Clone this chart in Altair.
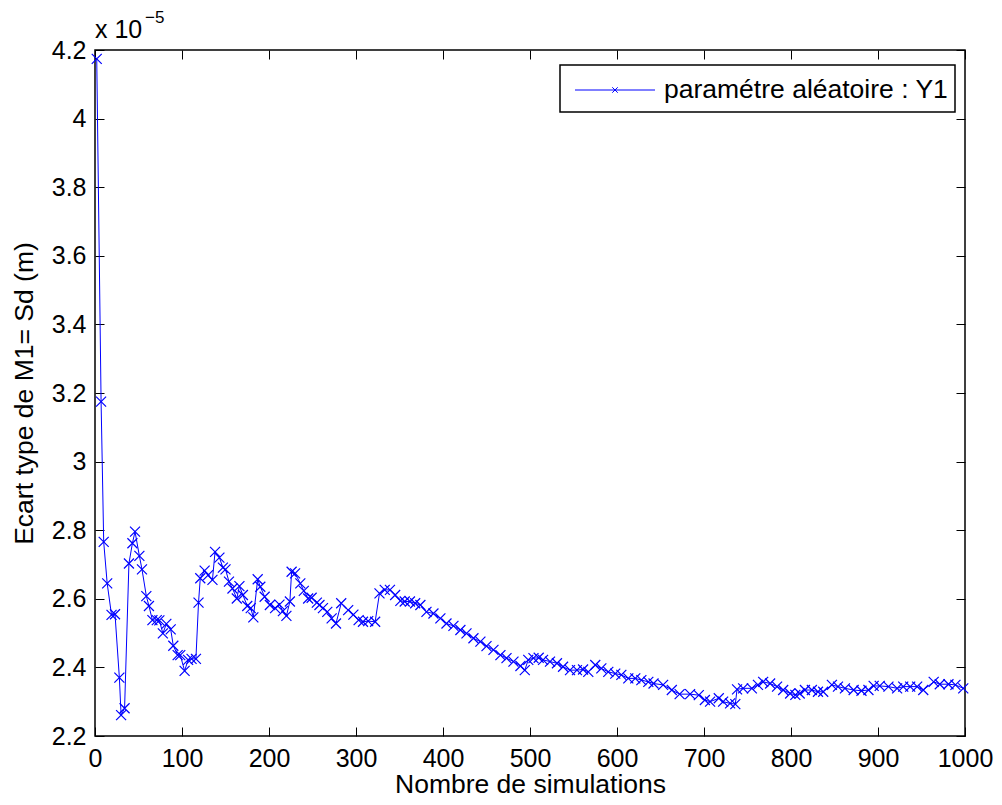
import altair as alt
import pandas as pd

# Number of simulations (x) and standard deviation values (x 1e-5)
sims = [2, 7, 10, 14, 19, 23, 28, 30, 34, 39, 43, 46, 51, 54, 59, 62, 66, 71, 74, 78,
        82, 87, 90, 95, 98, 103, 107, 111, 116, 119, 121, 126, 130, 135, 138, 143, 147, 150, 154, 158,
        163, 166, 170, 175, 179, 182, 187, 190, 195, 201, 207, 212, 216, 220, 224, 226, 230, 236, 240, 245,
        249, 255, 258, 262, 267, 272, 277, 283, 291, 297, 303, 308, 314, 322, 327, 333, 339, 345, 351, 356,
        362, 368, 374, 381, 389, 397, 404, 412, 420, 427, 435, 443, 450, 458, 466, 473, 481, 489, 494, 498,
        504, 510, 515, 523, 531, 538, 546, 554, 561, 567, 575, 582, 590, 598, 605, 613, 621, 628, 636, 642,
        653, 663, 672, 684, 694, 701, 707, 717, 722, 730, 736, 738, 745, 755, 762, 768, 776, 784, 791, 799,
        805, 810, 816, 824, 831, 837, 847, 854, 862, 872, 881, 889, 895, 902, 912, 922, 929, 937, 945, 952,
        964, 971, 981, 989, 998]
sd = [4.174, 3.175, 2.766, 2.645, 2.553, 2.555, 2.370, 2.261, 2.281, 2.703, 2.762, 2.796, 2.725, 2.686, 2.608, 2.579, 2.538, 2.538, 2.537, 2.499,
      2.527, 2.511, 2.463, 2.436, 2.436, 2.390, 2.422, 2.425, 2.425, 2.589, 2.660, 2.682, 2.669, 2.655, 2.737, 2.720, 2.691, 2.686, 2.650, 2.630,
      2.601, 2.637, 2.611, 2.579, 2.573, 2.546, 2.657, 2.635, 2.606, 2.582, 2.573, 2.583, 2.564, 2.550, 2.592, 2.679, 2.674, 2.645, 2.623, 2.601,
      2.603, 2.589, 2.582, 2.573, 2.562, 2.543, 2.528, 2.587, 2.567, 2.554, 2.538, 2.533, 2.535, 2.533, 2.616, 2.626, 2.626, 2.611, 2.594, 2.592,
      2.592, 2.587, 2.582, 2.562, 2.557, 2.543, 2.528, 2.521, 2.509, 2.499, 2.485, 2.475, 2.462, 2.451, 2.436, 2.427, 2.417, 2.404, 2.392, 2.422,
      2.427, 2.428, 2.422, 2.417, 2.412, 2.402, 2.392, 2.392, 2.394, 2.387, 2.407, 2.397, 2.387, 2.382, 2.378, 2.368, 2.368, 2.363, 2.358, 2.353,
      2.349, 2.334, 2.322, 2.322, 2.319, 2.305, 2.300, 2.310, 2.300, 2.295, 2.293, 2.336, 2.339, 2.339, 2.349, 2.358, 2.353, 2.344, 2.334, 2.324,
      2.320, 2.324, 2.334, 2.334, 2.329, 2.329, 2.349, 2.344, 2.339, 2.334, 2.332, 2.334, 2.346, 2.346, 2.344, 2.339, 2.344, 2.344, 2.344, 2.334,
      2.358, 2.351, 2.351, 2.349, 2.339]

x_ticks = [0, 100, 200, 300, 400, 500, 600, 700, 800, 900, 1000]
y_ticks = [2.2, 2.4, 2.6, 2.8, 3.0, 3.2, 3.4, 3.6, 3.8, 4.0, 4.2]
series_name = ["paramétre aléatoire : Y1"]
x_title = "Nombre de simulations"
y_title = "Ecart type de M1= Sd (m)"

df = pd.DataFrame({"sim": sims, "sd": sd})

FONT = "Liberation Sans"
BLUE = "#0000ff"
XMARK = "M-1,-1L1,1M-1,1L1,-1"
W, H = 870, 686

xscale = alt.Scale(domain=[0, 1000], nice=False, zero=False)
yscale = alt.Scale(domain=[2.2, 4.2], nice=False, zero=False)

common_axis = dict(tickSize=9, offset=-9, domain=False, grid=False, tickColor="black",
                   tickWidth=1, labelFont=FONT, labelFontSize=25, labelColor="black",
                   titleFont=FONT, titleFontSize=26.5, titleColor="black", titleFontWeight="normal")

x_main = alt.X("sim:Q", scale=xscale,
               axis=alt.Axis(orient="bottom", values=x_ticks, labelPadding=10, title=x_title,
                             titlePadding=0, format="d", labelFlush=False, **common_axis))
y_main = alt.Y("sd:Q", scale=yscale,
               axis=alt.Axis(orient="left", values=y_ticks, labelPadding=9, title=y_title,
                             titlePadding=13, format="~g", labelFlush=False, **common_axis))

base = alt.Chart(df)

line = base.mark_line(color=BLUE, strokeWidth=1).encode(x=x_main, y=y_main)
pts = base.mark_point(shape=XMARK, size=100, color=BLUE, filled=False, strokeWidth=1.2, opacity=1).encode(
    x=alt.X("sim:Q", scale=xscale, axis=None), y=alt.Y("sd:Q", scale=yscale, axis=None))

mirror = base.mark_point(opacity=0).encode(
    x=alt.X("sim:Q", scale=xscale,
            axis=alt.Axis(orient="top", values=x_ticks, labels=False, title=None, **common_axis)),
    y=alt.Y("sd:Q", scale=yscale,
            axis=alt.Axis(orient="right", values=y_ticks, labels=False, title=None, **common_axis)))

# legend (drawn as a box in the upper right corner)
leg_df = pd.DataFrame({"name": series_name})
leg_box = alt.Chart(leg_df).mark_rect(fill="white", stroke="black", strokeWidth=1.5).encode(
    x=alt.value(465), x2=alt.value(860), y=alt.value(15), y2=alt.value(62))
leg_line = alt.Chart(leg_df).mark_rule(color=BLUE, strokeWidth=1).encode(
    x=alt.value(480), x2=alt.value(560), y=alt.value(40))
leg_mark = alt.Chart(leg_df).mark_point(shape=XMARK, size=30, color=BLUE, filled=False,
                                        strokeWidth=1, opacity=1).encode(x=alt.value(520), y=alt.value(40))
leg_text = alt.Chart(leg_df).mark_text(font=FONT, fontSize=26.5, align="left", baseline="alphabetic",
                                       color="black").encode(x=alt.value(569), y=alt.value(48), text="name:N")

# exponent multiplier
mult_df = pd.DataFrame({"t": ["x 10"], "e": ["\u22125"]})
mult = alt.Chart(mult_df).mark_text(font=FONT, fontSize=25, align="left", baseline="alphabetic",
                                    color="black").encode(x=alt.value(0), y=alt.value(-12), text="t:N")
expo = alt.Chart(mult_df).mark_text(font=FONT, fontSize=17, align="left", baseline="alphabetic",
                                    color="black").encode(x=alt.value(50), y=alt.value(-27), text="e:N")

chart = alt.layer(line, pts, mirror, leg_box, leg_line, leg_mark, leg_text, mult, expo).resolve_axis(
    x="independent", y="independent"
).properties(
    width=W, height=H,
    autosize=alt.AutoSizeParams(type="none"),
    padding={"left": 87, "top": 42, "right": 29, "bottom": 61},
    background="white",
).configure_view(stroke="black", strokeWidth=1.5)

chart.save("out.html", embed_options={"renderer": "svg", "actions": False})
